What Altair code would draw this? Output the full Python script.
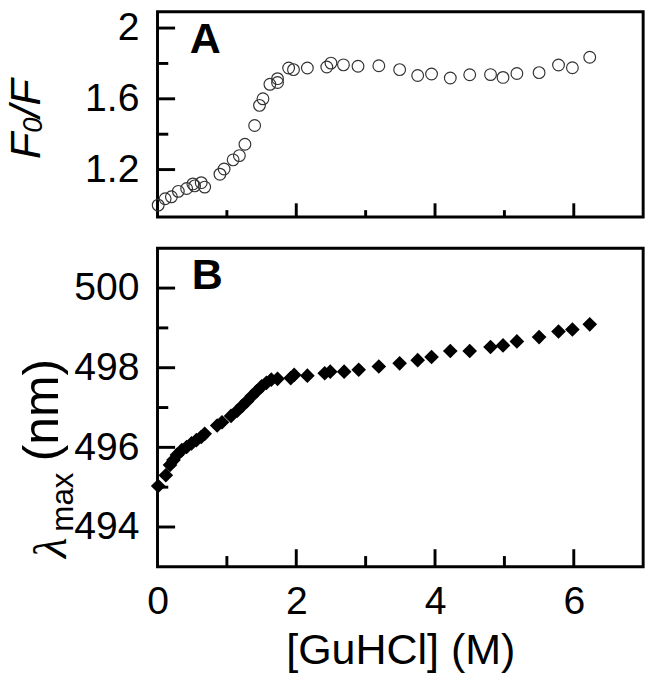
import altair as alt
import pandas as pd

# ---------------- data ----------------
# Panel A: F0/F vs [GuHCl]
gu_a = [0.01, 0.11, 0.20, 0.30, 0.42, 0.51, 0.535, 0.63, 0.68, 0.90,
        0.96, 1.09, 1.18, 1.26, 1.40, 1.47, 1.52, 1.62, 1.73, 1.73,
        1.89, 1.96, 2.16, 2.44, 2.50, 2.68, 2.89, 3.19, 3.49, 3.75,
        3.95, 4.22, 4.50, 4.80, 4.98, 5.18, 5.50, 5.78, 5.98, 6.23]
f0f = [0.999, 1.035, 1.046, 1.077, 1.093, 1.119, 1.108, 1.126, 1.101, 1.174,
       1.203, 1.255, 1.279, 1.343, 1.449, 1.563, 1.600, 1.682, 1.692, 1.714,
       1.774, 1.765, 1.774, 1.780, 1.802, 1.792, 1.784, 1.787, 1.765, 1.732,
       1.740, 1.718, 1.736, 1.737, 1.721, 1.743, 1.748, 1.791, 1.776, 1.835]

# Panel B: lambda max vs [GuHCl]
gu_b = [0.01, 0.12, 0.18, 0.23, 0.28, 0.35, 0.42, 0.49, 0.56, 0.63,
        0.68, 0.86, 0.93, 1.06, 1.15, 1.22, 1.29, 1.36, 1.43, 1.50,
        1.57, 1.64, 1.73, 1.92, 1.97, 2.16, 2.41, 2.49, 2.69, 2.90,
        3.19, 3.49, 3.75, 3.95, 4.22, 4.50, 4.80, 4.98, 5.18, 5.50,
        5.78, 5.98, 6.23]
lam = [495.03, 495.30, 495.56, 495.68, 495.81, 495.93, 496.01, 496.10, 496.18, 496.26,
       496.34, 496.55, 496.63, 496.79, 496.92, 497.04, 497.16, 497.29, 497.41, 497.53,
       497.62, 497.70, 497.72, 497.74, 497.82, 497.80, 497.86, 497.90, 497.90, 497.95,
       498.03, 498.11, 498.19, 498.27, 498.42, 498.42, 498.52, 498.56, 498.66, 498.77,
       498.91, 498.96, 499.09]

x_major = [2, 4, 6]
x_minor = [1, 3, 5]
x_labels = [0, 2, 4, 6]
ya_major = [1.2, 1.6, 2.0]
ya_minor = [1.4, 1.8]
yb_major = [494, 496, 498, 500]
yb_minor = [495, 497, 499]

# ---------------- layout constants ----------------
W = 497
H1 = 210
H2 = 326
FONT = "Liberation Sans"
LBL = 40
TTL = 44
TW = 3

xs = alt.Scale(domain=[0, 7], nice=False, zero=False)
ya = alt.Scale(domain=[0.932, 2.092], nice=False, zero=False)
yb = alt.Scale(domain=[493, 501], nice=False, zero=False)

dfa = pd.DataFrame({"x": gu_a, "y": f0f})
dfb = pd.DataFrame({"x": gu_b, "y": lam})


def text_piece(s, x, y, size, angle=0, style="normal", weight="normal", font=FONT):
    return alt.Chart(pd.DataFrame({"t": [s]})).mark_text(
        align="left", baseline="alphabetic", fontSize=size, font=font,
        fontStyle=style, fontWeight=weight, angle=angle, color="black"
    ).encode(text="t:N", x=alt.value(x), y=alt.value(y))


def yticks(vals, scale, length):
    return alt.Chart(pd.DataFrame({"v": vals})).mark_rule(
        color="black", strokeWidth=TW
    ).encode(y=alt.Y("v:Q", scale=scale), x=alt.value(0), x2=alt.value(length))


def xticks(vals, h, length):
    return alt.Chart(pd.DataFrame({"v": vals})).mark_rule(
        color="black", strokeWidth=TW
    ).encode(x=alt.X("v:Q", scale=xs), y=alt.value(h), y2=alt.value(h - length))


# ---------------- panel A ----------------
pts_a = alt.Chart(dfa).mark_point(
    shape="circle", filled=False, size=144, stroke="#333333", strokeWidth=1.2, opacity=1
).encode(
    x=alt.X("x:Q", scale=xs, axis=alt.Axis(labels=False, ticks=False, domain=False,
                                             grid=False, title=None)),
    y=alt.Y("y:Q", scale=ya, axis=alt.Axis(values=ya_major, format="~g", ticks=False,
                                             domain=False, grid=False, title=None,
                                             labelFontSize=LBL, labelFont=FONT,
                                             labelFlush=False,
                                             labelColor="black", labelPadding=19)),
)

panel_a = alt.layer(
    pts_a,
    yticks(ya_major, ya, 18),
    yticks(ya_minor, ya, 11),
    xticks(x_major, H1, 14),
    xticks(x_minor, H1, 7),
    text_piece("A", 33, 42, 44, weight="bold"),
    text_piece("F", -120, 150.7, TTL, angle=270, style="italic"),
    text_piece("0", -118, 123.8, 28, angle=270, style="italic"),
    text_piece("/F", -120, 108.2, TTL, angle=270, style="italic"),
).properties(width=W, height=H1)

# ---------------- panel B ----------------
pts_b = alt.Chart(dfb).mark_point(
    shape="diamond", filled=True, size=225, color="black", opacity=1
).encode(
    x=alt.X("x:Q", scale=xs, axis=alt.Axis(values=x_labels, format="d", ticks=False,
                                             domain=False, grid=False, labelFlush=False,
                                             title="[GuHCl] (M)", titleFontSize=TTL,
                                             titleFont=FONT, titleFontWeight="normal",
                                             titleColor="black", titlePadding=8,
                                             labelFontSize=LBL, labelFont=FONT,
                                             labelColor="black", labelPadding=16)),
    y=alt.Y("y:Q", scale=yb, axis=alt.Axis(values=yb_major, format="d", ticks=False,
                                             domain=False, grid=False, title=None,
                                             labelFontSize=LBL, labelFont=FONT,
                                             labelFlush=False,
                                             labelColor="black", labelPadding=19)),
)

panel_b = alt.layer(
    pts_b,
    yticks(yb_major, yb, 18),
    yticks(yb_minor, yb, 11),
    xticks(x_major, H2, 18),
    xticks(x_minor, H2, 11),
    text_piece("B", 35, 42, 44, weight="bold"),
    text_piece("\u03bb", -94, 317, 48, angle=270, style="italic", font="Liberation Serif"),
    text_piece("max", -86, 290, 32, angle=270),
    text_piece("(nm)", -102, 218, 51, angle=270),
).properties(width=W, height=H2)

chart = alt.vconcat(panel_a, panel_b, spacing=27).properties(
    padding={"left": -4, "top": -9, "right": 5, "bottom": 0}
).configure_view(stroke="black", strokeWidth=TW).configure_axis(labelFont=FONT)

chart.save("out.html", embed_options={"renderer": "svg", "actions": False})
